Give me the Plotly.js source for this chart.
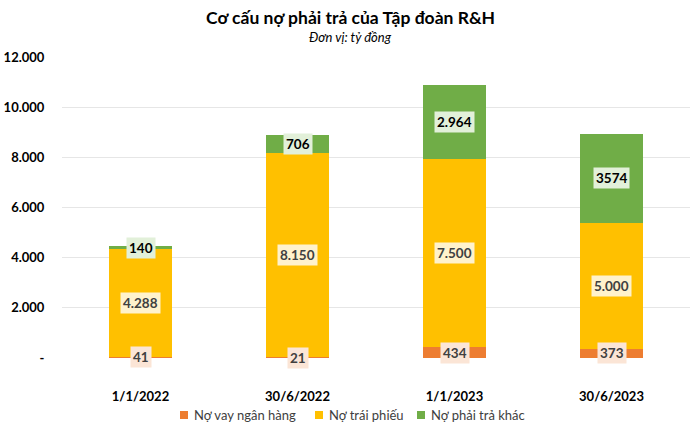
<!DOCTYPE html>
<html>
<head>
<meta charset="utf-8">
<script src="https://cdn.plot.ly/plotly-3.0.1.min.js"></script>
<style>
  html, body { margin: 0; padding: 0; background: #fff; }
  #chart { width: 700px; height: 431px; }
</style>
</head>
<body>
<div id="chart"></div>
<script>
const dates = ["1/1/2022", "30/6/2022", "1/1/2023", "30/6/2023"];
const bankLoans = [41, 21, 434, 373];
const bonds = [4288, 8150, 7500, 5000];
const otherDebt = [140, 706, 2964, 3574];
const bankText = ["41", "21", "434", "373"];
const bondText = ["4.288", "8.150", "7.500", "5.000"];
const otherText = ["140", "706", "2.964", "3574"];
const yTicks = [0, 2000, 4000, 6000, 8000, 10000, 12000];
const yTickText = ["-", "2.000", "4.000", "6.000", "8.000", "10.000", "12.000"];

const FONT = "Lato, 'Open Sans', sans-serif";

const series = [
  { name: "Nợ vay ngân hàng", y: bankLoans, text: bankText, color: "#ED7D31", bg: "#FBE5D6", fc: "#404040", lx: 180 },
  { name: "Nợ trái phiếu", y: bonds, text: bondText, color: "#FFC000", bg: "#FFF2CC", fc: "#404040", lx: 315 },
  { name: "Nợ phải trả khác", y: otherDebt, text: otherText, color: "#70AD47", bg: "#E2F0D9", fc: "#000000", lx: 417 }
];

const data = series.map(s => ({
  type: "bar",
  x: dates,
  y: s.y,
  name: s.name,
  marker: { color: s.color },
  hoverinfo: "skip"
}));

const W = 700, H = 431;
const plotL = 62, plotW = 628, plotT = 57, plotH = 301;
const px = x => (x - plotL) / plotW;
const py = y => 1 - (y - plotT) / plotH;

const annotations = [];
const shapes = [];

// title and subtitle, centred on the page
annotations.push({
  xref: "paper", yref: "paper", x: px(W / 2), y: py(17),
  xanchor: "center", yanchor: "middle",
  text: "<b>Cơ cấu nợ phải trả của Tập đoàn R&H</b>", showarrow: false,
  font: { family: FONT, size: 17.5, color: "#000" }
});
annotations.push({
  xref: "paper", yref: "paper", x: px(W / 2), y: py(37),
  xanchor: "center", yanchor: "middle",
  text: "<i>Đơn vị: tỷ đồng</i>", showarrow: false,
  font: { family: FONT, size: 13, color: "#000" }
});

// data labels with a tinted box, placed in the middle of each segment
const base = dates.map(() => 0);
series.forEach(s => {
  s.y.forEach((v, i) => {
    annotations.push({
      x: dates[i],
      y: base[i] + v / 2,
      text: "<b>" + s.text[i] + "</b>",
      showarrow: false,
      bgcolor: s.bg,
      borderpad: 2,
      font: { family: FONT, size: 13.5, color: s.fc }
    });
    base[i] += v;
  });
});

// legend drawn below the plot
series.forEach(s => {
  shapes.push({
    type: "rect", xref: "paper", yref: "paper",
    x0: px(s.lx), x1: px(s.lx + 8), y0: py(419), y1: py(411),
    fillcolor: s.color, line: { width: 0 }
  });
  annotations.push({
    xref: "paper", yref: "paper", x: px(s.lx + 12), y: py(415),
    xanchor: "left", yanchor: "middle", showarrow: false,
    text: s.name, font: { family: FONT, size: 13, color: "#404040" }
  });
});

const layout = {
  width: W,
  height: H,
  margin: { l: 62, r: 10, t: 57, b: 73 },
  paper_bgcolor: "#fff",
  plot_bgcolor: "#fff",
  barmode: "stack",
  bargap: 0.6,
  font: { family: FONT, color: "#000" },
  showlegend: false,
  xaxis: {
    type: "category",
    automargin: false,
    showgrid: false,
    showline: false,
    ticks: "outside",
    ticklen: 26,
    tickcolor: "rgba(0,0,0,0)",
    tickfont: { family: FONT, size: 13, color: "#000", weight: "bold" }
  },
  yaxis: {
    range: [0, 12000],
    automargin: false,
    tickvals: yTicks,
    ticktext: yTickText,
    showgrid: true,
    gridcolor: "#e6e6e6",
    zeroline: false,
    showline: false,
    ticks: "outside",
    ticklen: 14,
    tickcolor: "rgba(0,0,0,0)",
    tickfont: { family: FONT, size: 13, color: "#000", weight: "bold" }
  },
  annotations: annotations,
  shapes: shapes
};

Plotly.newPlot("chart", data, layout, { displayModeBar: false, staticPlot: true });
</script>
</body>
</html>
